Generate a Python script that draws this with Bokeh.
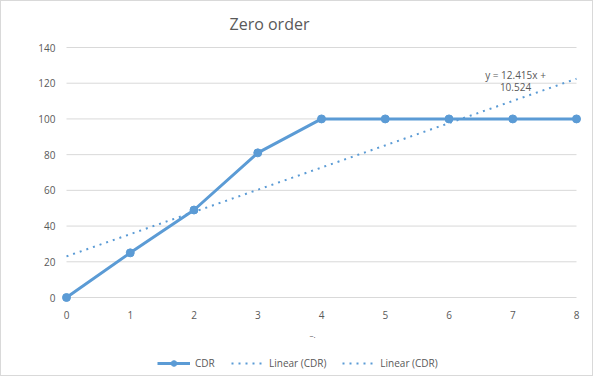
import numpy as np
from bokeh.plotting import figure
from bokeh.models import Label, Legend, LegendItem, Range1d
from bokeh.core.properties import value
from bokeh.embed import file_html
from bokeh.resources import INLINE

x_vals = [0, 1, 2, 3, 4, 5, 6, 7, 8]
cdr = [0, 25, 49, 81, 100, 100, 100, 100, 100]
y_ticks = [0, 20, 40, 60, 80, 100, 120, 140]
x_ticks = [0, 1, 2, 3, 4, 5, 6, 7, 8]
title_text = "Zero order"
x_title = "–."
eq_lines = ["y = 12.415x +", "10.524"]

slope, intercept = np.polyfit(x_vals, cdr, 1)
tx = [0, 8]
ty = [intercept + slope * t for t in tx]

BLUE = "#5B9BD5"
GRAY = "#595959"
GRID = "#D9D9D9"
FONT = "Open Sans"

# layout (pixels)
W, H = 593, 376
PL, PR, PT, PB = 65, 575, 46, 296
xs = (PR - PL) / (x_ticks[-1] - x_ticks[0])
ys = (PB - PT) / (y_ticks[-1] - y_ticks[0])
xr = Range1d(x_ticks[0] - PL / xs, x_ticks[-1] + (W - PR) / xs)
yr = Range1d(y_ticks[0] - (H - PB) / ys, y_ticks[-1] + PT / ys)

p = figure(width=W, height=H, output_backend="svg", toolbar_location=None,
           x_range=xr, y_range=yr, x_axis_location=None, y_axis_location=None,
           min_border=0)
p.outline_line_color = None
p.styles = {"border": "1px solid #D9D9D9"}
p.grid.visible = False

# gridlines and tick labels
p.segment(x0=[x_ticks[0]] * len(y_ticks), x1=[x_ticks[-1]] * len(y_ticks),
          y0=y_ticks, y1=y_ticks, line_color=GRID, line_width=1)
p.text(x=[x_ticks[0]] * len(y_ticks), y=y_ticks, text=[str(v) for v in y_ticks],
       x_offset=-11, text_align="right", text_baseline="middle",
       text_font=value(FONT), text_font_size="10px", text_color=GRAY)
p.text(x=x_ticks, y=[y_ticks[0]] * len(x_ticks), text=[str(v) for v in x_ticks],
       y_offset=17, text_align="center", text_baseline="middle",
       text_font=value(FONT), text_font_size="10px", text_color=GRAY)

r_t1 = p.line(tx, ty, line_color=BLUE, line_width=2, line_dash="2 5")
r_line = p.line(x_vals, cdr, line_color=BLUE, line_width=3)
r_pts = p.scatter(x_vals, cdr, size=8, color=BLUE)

def lab(x, y, t, size):
    p.add_layout(Label(x=x, y=y, x_units="screen", y_units="screen", text=t,
                       text_font=FONT, text_font_size=size, text_color=GRAY,
                       text_align="center", text_baseline="middle"))

lab(268, H - 22, title_text, "16px")
lab(514, H - 73, eq_lines[0], "10px")
lab(514, H - 85, eq_lines[1], "10px")
lab(311, H - 333, x_title, "8px")

legend = Legend(items=[LegendItem(label="CDR", renderers=[r_line, r_pts]),
                       LegendItem(label="Linear (CDR)", renderers=[r_t1]),
                       LegendItem(label="Linear (CDR)", renderers=[r_t1])],
                orientation="horizontal", location=(156, 7),
                label_text_font=FONT, label_text_font_size="10px", label_text_color=GRAY,
                background_fill_alpha=0, border_line_color=None,
                glyph_width=33, glyph_height=14, label_height=14,
                spacing=16, padding=2, label_standoff=5, margin=0)
p.add_layout(legend)

open("out.html", "w").write(file_html(p, INLINE))
